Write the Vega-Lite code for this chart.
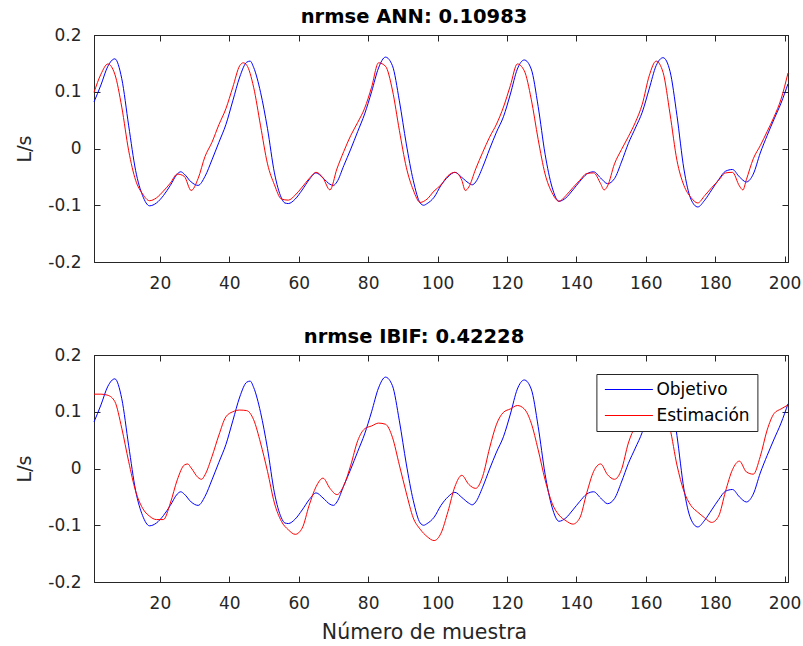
{
  "$schema": "https://vega.github.io/schema/vega-lite/v6.json",
  "background": "white",
  "padding": {"left": 15, "top": 6, "right": 0, "bottom": 0},
  "spacing": 34,
  "config": {
    "font": "DejaVu Sans",
    "view": {"stroke": "#262626", "strokeWidth": 1},
    "axis": {
      "labelFont": "DejaVu Sans", "labelFontSize": 17, "labelColor": "#262626",
      "titleFont": "DejaVu Sans", "titleFontSize": 19, "titleFontWeight": "normal", "titleColor": "#262626",
      "domainColor": "#262626", "tickColor": "#262626", "grid": false,
      "tickSize": -6, "labelFlush": false, "labelOverlap": false
    },
    "title": {"font": "DejaVu Sans", "fontSize": 19.5, "fontWeight": "bold", "color": "black", "baseline": "alphabetic", "offset": -1, "dx": -27}
  },
  "datasets": {
    "objetivo": [
      {"n":1,"v":0.082},{"n":3,"v":0.112},{"n":5,"v":0.145},{"n":7,"v":0.158},{"n":9,"v":0.123},{"n":11,"v":0.04},{"n":13,"v":-0.039},{"n":15,"v":-0.083},{"n":17,"v":-0.101},{"n":19,"v":-0.096},{"n":21,"v":-0.083},{"n":23,"v":-0.065},{"n":25,"v":-0.045},{"n":26,"v":-0.041},{"n":27,"v":-0.045},{"n":29,"v":-0.059},{"n":31,"v":-0.065},{"n":33,"v":-0.049},{"n":35,"v":-0.02},{"n":37,"v":0.011},{"n":39,"v":0.042},{"n":41,"v":0.084},{"n":43,"v":0.126},{"n":45,"v":0.152},{"n":46,"v":0.154},{"n":47,"v":0.143},{"n":49,"v":0.099},
      {"n":51,"v":0.035},{"n":53,"v":-0.043},{"n":55,"v":-0.087},{"n":56,"v":-0.096},{"n":57,"v":-0.097},{"n":59,"v":-0.089},{"n":61,"v":-0.073},{"n":63,"v":-0.055},{"n":65,"v":-0.043},{"n":67,"v":-0.052},{"n":69,"v":-0.063},{"n":70,"v":-0.065},{"n":71,"v":-0.059},{"n":73,"v":-0.03},{"n":75,"v":-0.001},{"n":77,"v":0.03},{"n":79,"v":0.061},{"n":81,"v":0.1},{"n":83,"v":0.142},{"n":85,"v":0.161},{"n":87,"v":0.146},{"n":89,"v":0.084},{"n":91,"v":0.008},{"n":93,"v":-0.056},{"n":95,"v":-0.096},{"n":96,"v":-0.1},{"n":97,"v":-0.097},{"n":99,"v":-0.086},
      {"n":101,"v":-0.065},{"n":103,"v":-0.05},{"n":105,"v":-0.042},{"n":107,"v":-0.051},{"n":109,"v":-0.061},{"n":110,"v":-0.064},{"n":111,"v":-0.059},{"n":113,"v":-0.033},{"n":115,"v":-0.001},{"n":117,"v":0.029},{"n":119,"v":0.056},{"n":121,"v":0.096},{"n":123,"v":0.14},{"n":125,"v":0.156},{"n":127,"v":0.14},{"n":129,"v":0.074},{"n":131,"v":-0.01},{"n":133,"v":-0.068},{"n":135,"v":-0.093},{"n":137,"v":-0.087},{"n":139,"v":-0.073},{"n":141,"v":-0.058},{"n":143,"v":-0.045},{"n":145,"v":-0.041},{"n":147,"v":-0.052},{"n":149,"v":-0.062},
      {"n":151,"v":-0.053},{"n":153,"v":-0.024},{"n":155,"v":0.009},{"n":157,"v":0.036},{"n":159,"v":0.064},{"n":161,"v":0.105},{"n":163,"v":0.146},{"n":165,"v":0.16},{"n":167,"v":0.136},{"n":169,"v":0.058},{"n":171,"v":-0.036},{"n":173,"v":-0.089},{"n":175,"v":-0.103},{"n":177,"v":-0.091},{"n":179,"v":-0.073},{"n":181,"v":-0.055},{"n":183,"v":-0.04},{"n":185,"v":-0.037},{"n":187,"v":-0.05},{"n":189,"v":-0.059},{"n":191,"v":-0.045},{"n":193,"v":-0.008},{"n":195,"v":0.023},{"n":197,"v":0.052},{"n":199,"v":0.08},{"n":201,"v":0.114}
    ],
    "ann": [
      {"n":1,"v":0.099},{"n":3,"v":0.131},{"n":5,"v":0.149},{"n":7,"v":0.131},{"n":9,"v":0.073},{"n":11,"v":-0.004},{"n":13,"v":-0.056},{"n":15,"v":-0.08},{"n":17,"v":-0.092},{"n":19,"v":-0.087},{"n":21,"v":-0.075},{"n":23,"v":-0.061},{"n":25,"v":-0.045},{"n":27,"v":-0.049},{"n":29,"v":-0.074},{"n":31,"v":-0.053},{"n":33,"v":-0.014},{"n":35,"v":0.011},{"n":37,"v":0.042},{"n":39,"v":0.07},{"n":41,"v":0.108},{"n":43,"v":0.146},{"n":44,"v":0.151},{"n":45,"v":0.147},{"n":47,"v":0.108},{"n":49,"v":0.04},
      {"n":51,"v":-0.027},{"n":53,"v":-0.064},{"n":55,"v":-0.089},{"n":57,"v":-0.091},{"n":59,"v":-0.082},{"n":61,"v":-0.068},{"n":63,"v":-0.053},{"n":65,"v":-0.042},{"n":67,"v":-0.052},{"n":69,"v":-0.073},{"n":71,"v":-0.036},{"n":73,"v":-0.005},{"n":75,"v":0.023},{"n":77,"v":0.046},{"n":79,"v":0.071},{"n":81,"v":0.108},{"n":83,"v":0.151},{"n":85,"v":0.145},{"n":87,"v":0.103},{"n":89,"v":0.032},{"n":91,"v":-0.033},{"n":93,"v":-0.073},{"n":95,"v":-0.095},{"n":97,"v":-0.089},{"n":99,"v":-0.075},
      {"n":101,"v":-0.064},{"n":103,"v":-0.048},{"n":105,"v":-0.042},{"n":107,"v":-0.056},{"n":108,"v":-0.074},{"n":109,"v":-0.068},{"n":111,"v":-0.036},{"n":113,"v":-0.007},{"n":115,"v":0.02},{"n":117,"v":0.043},{"n":119,"v":0.073},{"n":121,"v":0.111},{"n":123,"v":0.149},{"n":125,"v":0.137},{"n":127,"v":0.087},{"n":129,"v":0.016},{"n":131,"v":-0.045},{"n":133,"v":-0.078},{"n":135,"v":-0.093},{"n":137,"v":-0.083},{"n":139,"v":-0.069},{"n":141,"v":-0.056},{"n":143,"v":-0.044},{"n":145,"v":-0.043},{"n":147,"v":-0.062},{"n":148,"v":-0.073},{"n":149,"v":-0.066},
      {"n":151,"v":-0.027},{"n":153,"v":-0.002},{"n":155,"v":0.021},{"n":157,"v":0.046},{"n":159,"v":0.078},{"n":161,"v":0.128},{"n":163,"v":0.154},{"n":165,"v":0.134},{"n":167,"v":0.061},{"n":169,"v":-0.021},{"n":171,"v":-0.065},{"n":173,"v":-0.086},{"n":175,"v":-0.096},{"n":177,"v":-0.083},{"n":179,"v":-0.069},{"n":181,"v":-0.056},{"n":183,"v":-0.043},{"n":185,"v":-0.042},{"n":187,"v":-0.066},{"n":188,"v":-0.073},{"n":189,"v":-0.055},{"n":191,"v":-0.018},{"n":193,"v":0.005},{"n":195,"v":0.03},{"n":197,"v":0.056},{"n":199,"v":0.087},{"n":201,"v":0.133}
    ],
    "ibif": [
      {"n":1,"v":0.131},{"n":3,"v":0.131},{"n":5,"v":0.129},{"n":7,"v":0.118},{"n":9,"v":0.071},{"n":11,"v":0.012},{"n":13,"v":-0.04},{"n":15,"v":-0.07},{"n":17,"v":-0.084},{"n":19,"v":-0.09},{"n":21,"v":-0.09},{"n":23,"v":-0.061},{"n":25,"v":-0.02},{"n":27,"v":0.006},{"n":28,"v":0.008},{"n":29,"v":0.001},{"n":31,"v":-0.016},{"n":32,"v":-0.019},{"n":33,"v":-0.011},{"n":35,"v":0.021},{"n":37,"v":0.059},{"n":39,"v":0.091},{"n":41,"v":0.1},{"n":43,"v":0.103},{"n":45,"v":0.102},{"n":47,"v":0.086},{"n":49,"v":0.045},
      {"n":51,"v":-0.005},{"n":53,"v":-0.061},{"n":55,"v":-0.093},{"n":57,"v":-0.108},{"n":59,"v":-0.116},{"n":61,"v":-0.105},{"n":63,"v":-0.065},{"n":65,"v":-0.032},{"n":67,"v":-0.017},{"n":69,"v":-0.035},{"n":71,"v":-0.046},{"n":73,"v":-0.03},{"n":75,"v":0.006},{"n":77,"v":0.049},{"n":79,"v":0.07},{"n":81,"v":0.075},{"n":83,"v":0.08},{"n":85,"v":0.078},{"n":87,"v":0.055},{"n":89,"v":0.006},{"n":91,"v":-0.043},{"n":93,"v":-0.087},{"n":95,"v":-0.107},{"n":97,"v":-0.12},{"n":99,"v":-0.127},
      {"n":101,"v":-0.114},{"n":103,"v":-0.076},{"n":105,"v":-0.032},{"n":107,"v":-0.012},{"n":109,"v":-0.028},{"n":111,"v":-0.035},{"n":113,"v":-0.014},{"n":115,"v":0.036},{"n":117,"v":0.078},{"n":119,"v":0.099},{"n":121,"v":0.105},{"n":123,"v":0.111},{"n":125,"v":0.105},{"n":127,"v":0.08},{"n":129,"v":0.033},{"n":131,"v":-0.02},{"n":133,"v":-0.061},{"n":135,"v":-0.082},{"n":137,"v":-0.092},{"n":139,"v":-0.098},{"n":141,"v":-0.087},{"n":143,"v":-0.043},{"n":145,"v":-0.005},{"n":147,"v":0.008},{"n":149,"v":-0.011},
      {"n":151,"v":-0.019},{"n":153,"v":-0.002},{"n":155,"v":0.045},{"n":157,"v":0.075},{"n":159,"v":0.095},{"n":161,"v":0.103},{"n":163,"v":0.107},{"n":165,"v":0.103},{"n":167,"v":0.07},{"n":169,"v":0.006},{"n":171,"v":-0.04},{"n":173,"v":-0.065},{"n":175,"v":-0.077},{"n":177,"v":-0.087},{"n":179,"v":-0.095},{"n":181,"v":-0.084},{"n":183,"v":-0.04},{"n":185,"v":-0.002},{"n":187,"v":0.013},{"n":189,"v":-0.006},{"n":191,"v":-0.01},{"n":193,"v":0.021},{"n":195,"v":0.068},{"n":197,"v":0.097},{"n":199,"v":0.105},{"n":201,"v":0.112}
    ]
  },
  "vconcat": [
    {
      "title": "nrmse ANN: 0.10983",
      "width": 694, "height": 227,
      "layer": [
        {
          "data": {"name": "objetivo"},
          "mark": {"type": "line", "strokeWidth": 1, "interpolate": "monotone"},
          "encoding": {
            "x": {"field": "n", "type": "quantitative", "scale": {"domain": [1, 201], "nice": false, "zero": false},
                  "axis": {"orient": "bottom", "values": [20,40,60,80,100,120,140,160,180,200], "title": null, "labelPadding": 19}},
            "y": {"field": "v", "type": "quantitative", "scale": {"domain": [-0.2, 0.2], "nice": false, "zero": false},
                  "axis": {"orient": "left", "values": [-0.2,-0.1,0,0.1,0.2], "title": "L/s", "labelPadding": 19, "titlePadding": 13,
                           "labelExpr": "replace(format(datum.value, '.1~f'), '\u2212', '-')"}},
            "color": {"datum": "Objetivo", "scale": {"domain": ["Objetivo", "Estimación"], "range": ["#0000ff", "#ff0000"]}, "legend": null}
          }
        },
        {
          "data": {"name": "ann"},
          "mark": {"type": "line", "strokeWidth": 1, "interpolate": "monotone"},
          "encoding": {
            "x": {"field": "n", "type": "quantitative", "axis": {"orient": "top", "values": [20,40,60,80,100,120,140,160,180,200], "labels": false, "title": null}},
            "y": {"field": "v", "type": "quantitative", "axis": {"orient": "right", "values": [-0.2,-0.1,0,0.1,0.2], "labels": false, "title": null}},
            "color": {"datum": "Estimación", "legend": null}
          }
        }
      ],
      "resolve": {"axis": {"x": "independent", "y": "independent"}}
    },
    {
      "title": "nrmse IBIF: 0.42228",
      "width": 694, "height": 227,
      "layer": [
        {
          "data": {"name": "objetivo"},
          "mark": {"type": "line", "strokeWidth": 1, "interpolate": "monotone"},
          "encoding": {
            "x": {"field": "n", "type": "quantitative", "scale": {"domain": [1, 201], "nice": false, "zero": false},
                  "axis": {"orient": "bottom", "values": [20,40,60,80,100,120,140,160,180,200], "title": "Número de muestra", "labelPadding": 19, "titlePadding": 11, "titleFontSize": 20.5, "titleX": 330}},
            "y": {"field": "v", "type": "quantitative", "scale": {"domain": [-0.2, 0.2], "nice": false, "zero": false},
                  "axis": {"orient": "left", "values": [-0.2,-0.1,0,0.1,0.2], "title": "L/s", "labelPadding": 19, "titlePadding": 13,
                           "labelExpr": "replace(format(datum.value, '.1~f'), '\u2212', '-')"}},
            "color": {"datum": "Objetivo", "scale": {"domain": ["Objetivo", "Estimación"], "range": ["#0000ff", "#ff0000"]},
                      "legend": {"orient": "none", "legendX": 502.4, "legendY": 19, "title": null, "symbolType": "M-0.5,0H7.5", "symbolSize": 144,
                                 "symbolStrokeWidth": 1, "symbolOffset": -4, "labelFont": "DejaVu Sans", "labelFontSize": 17, "labelColor": "black",
                                 "strokeColor": "#262626", "fillColor": "white", "padding": 7, "labelOffset": 40, "rowPadding": 8}}
          }
        },
        {
          "data": {"name": "ibif"},
          "mark": {"type": "line", "strokeWidth": 1, "interpolate": "monotone"},
          "encoding": {
            "x": {"field": "n", "type": "quantitative", "axis": {"orient": "top", "values": [20,40,60,80,100,120,140,160,180,200], "labels": false, "title": null}},
            "y": {"field": "v", "type": "quantitative", "axis": {"orient": "right", "values": [-0.2,-0.1,0,0.1,0.2], "labels": false, "title": null}},
            "color": {"datum": "Estimación"}
          }
        }
      ],
      "resolve": {"axis": {"x": "independent", "y": "independent"}}
    }
  ],
  "resolve": {"scale": {"color": "independent"}, "legend": {"color": "independent"}}
}
